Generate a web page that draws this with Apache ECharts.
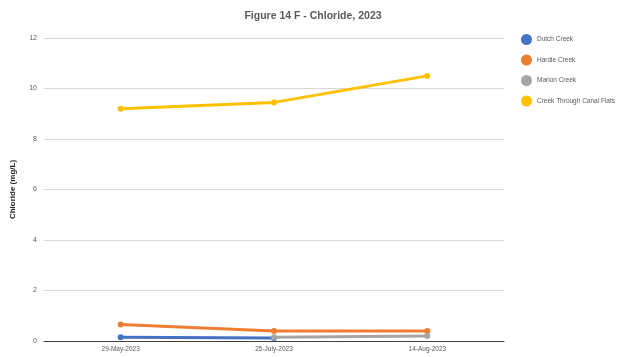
<!DOCTYPE html>
<html>
<head>
<meta charset="utf-8">
<script src="https://cdn.jsdelivr.net/npm/echarts@6/dist/echarts.min.js"></script>
<style>
  html, body { margin: 0; padding: 0; background: #fff; }
  #chart { width: 624px; height: 357px; }
</style>
</head>
<body>
<div id="chart"></div>
<script>
// Sampling dates
const categories = ['29-May-2023', '25-July-2023', '14-Aug-2023'];

// Chloride concentrations (mg/L) per site
const dutchCreek = [0.15, 0.12, null];
const hardieCreek = [0.65, 0.4, 0.4];
const marionCreek = [null, 0.15, 0.2];
const canalFlats = [9.2, 9.45, 10.5];

const seriesNames = ['Dutch Creek', 'Hardie Creek', 'Marion Creek', 'Creek Through Canal Flats'];
const seriesData = [dutchCreek, hardieCreek, marionCreek, canalFlats];
const colors = ['#4472C4', '#ED7D31', '#A5A5A5', '#FFC000'];

const font = 'Liberation Sans, Arial, sans-serif';
const textGray = '#595959';

const chart = echarts.init(document.getElementById('chart'), null, { renderer: 'canvas' });

chart.setOption({
  animation: false,
  color: colors,
  title: {
    text: 'Figure 14 F - Chloride, 2023',
    left: 308,
    textAlign: 'center',
    top: 6,
    textStyle: { fontFamily: font, fontSize: 10.5, fontWeight: 'bold', color: textGray }
  },
  legend: {
    orient: 'vertical',
    left: 516,
    top: 29,
    icon: 'circle',
    itemWidth: 11,
    itemHeight: 11,
    itemGap: 9.5,
    data: seriesNames,
    textStyle: { fontFamily: font, fontSize: 6.5, color: textGray }
  },
  grid: { left: 44, right: 120, top: 38, bottom: 16 },
  xAxis: {
    type: 'category',
    data: categories,
    boundaryGap: true,
    axisLine: { lineStyle: { color: '#404040', width: 1 } },
    axisTick: { show: false },
    axisLabel: { fontFamily: font, fontSize: 6.5, color: textGray, margin: 5 }
  },
  yAxis: {
    type: 'value',
    min: 0,
    max: 12,
    interval: 2,
    name: 'Chloride (mg/L)',
    nameLocation: 'middle',
    nameGap: 27,
    nameTextStyle: { fontFamily: font, fontSize: 8, fontWeight: 'bold', color: '#262626' },
    axisLine: { show: false },
    axisTick: { show: false },
    axisLabel: { fontFamily: font, fontSize: 7, color: textGray, margin: 7 },
    splitLine: { lineStyle: { color: '#d9d9d9', width: 1 } }
  },
  series: seriesNames.map((name, i) => ({
    name: name,
    type: 'line',
    data: seriesData[i],
    symbol: 'circle',
    symbolSize: 6,
    showSymbol: true,
    connectNulls: false,
    lineStyle: { width: 3, color: colors[i] },
    itemStyle: { color: colors[i] }
  }))
});
</script>
</body>
</html>
